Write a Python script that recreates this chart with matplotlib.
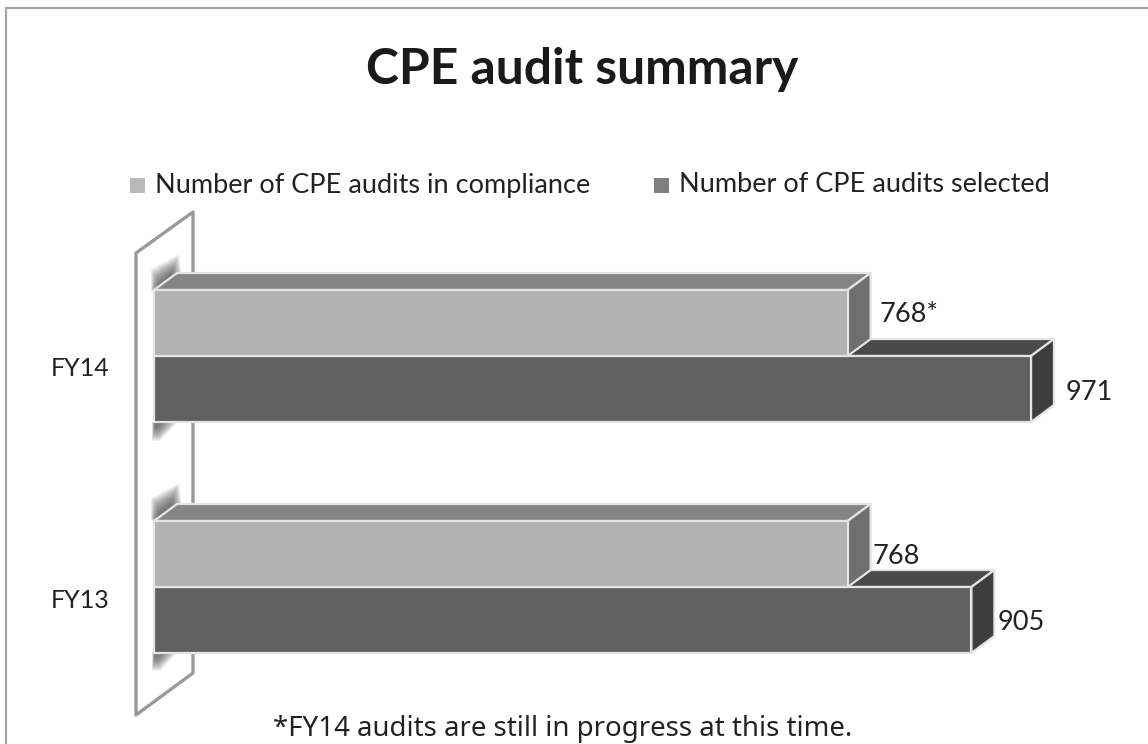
"""CPE audit summary: 3D-look horizontal bars, drawn by hand with polygons."""

import matplotlib
matplotlib.use("Agg")
import matplotlib.pyplot as plt
from matplotlib.patches import Polygon, Rectangle

W, H = 1148, 744

years = ["FY13", "FY14"]
in_compliance = [768, 768]
selected = [905, 971]
compliance_labels = ["768", "768*"]
selected_labels = ["905", "971"]
legend_labels = ["Number of CPE audits in compliance", "Number of CPE audits selected"]

# layout in pixels
X0 = 154
PX_PER_UNIT = (1031 - 154) / 971
Y_FY13 = 587
Y_STEP = 231
BAR_H = 66 / Y_STEP
DX = 23 / PX_PER_UNIT
DY = 17 / Y_STEP

LIGHT = ("#b2b2b2", "#858585", "#6f6f6f")
DARK = ("#606060", "#4a4a4a", "#3d3d3d")
EDGE = "#e4e4e4"
TEXT = "#222222"

plt.rcParams["font.family"] = ["Lato", "DejaVu Sans"]

fig = plt.figure(figsize=(W / 100, H / 100), dpi=100)
fig.patch.set_facecolor("white")

# background layer works in plain pixels
bg = fig.add_axes([0, 0, 1, 1])
bg.set_xlim(0, W)
bg.set_ylim(H, 0)
bg.axis("off")

# frame only shows on the top and the left
bg.plot([6, 6, W], [H, 8, 8], color="#a6a6a6", lw=1.6, solid_joinstyle="miter")

# the wall behind the bars
bg.add_patch(Polygon([(136, 253), (193, 212), (193, 673), (136, 715)], closed=True,
                     fc="white", ec="#9a9a9a", lw=2.4, joinstyle="round"))


def blur(outer, inner, steps=16, alpha=0.065):
    # fake a soft shadow with shrinking translucent polygons
    for k in range(steps):
        t = k / (steps - 1)
        pts = [(a[0] + (b[0] - a[0]) * t, a[1] + (b[1] - a[1]) * t) for a, b in zip(outer, inner)]
        bg.add_patch(Polygon(pts, closed=True, fc="#404040", ec="none", alpha=alpha))


for y_top, y_bot in [(291, 422), (520, 652)]:
    blur([(151, y_top), (151, y_top - 22), (179, y_top - 37), (182, y_top - 14)],
         [(155, y_top), (160, y_top - 8), (170, y_top - 17), (174, y_top - 14)])
    blur([(152, y_bot), (152, y_bot + 19), (160, y_bot + 19), (178, y_bot)],
         [(155, y_bot), (155, y_bot + 5), (157, y_bot + 5), (162, y_bot)])

ax = fig.add_axes([0, 0, 1, 1])
ax.set_xlim(-X0 / PX_PER_UNIT, (W - X0) / PX_PER_UNIT)
ax.set_ylim((Y_FY13 - H) / Y_STEP, Y_FY13 / Y_STEP)
ax.axis("off")
ax.patch.set_alpha(0)


def box(value, y_low, colors):
    y_high = y_low + BAR_H
    front, top, side = colors
    kw = dict(closed=True, ec=EDGE, lw=1.6, joinstyle="round")
    ax.add_patch(Polygon([(0, y_high), (DX, y_high + DY), (value + DX, y_high + DY),
                          (value, y_high)], fc=top, **kw))
    ax.add_patch(Polygon([(value, y_low), (value + DX, y_low + DY),
                          (value + DX, y_high + DY), (value, y_high)], fc=side, **kw))
    ax.add_patch(Polygon([(0, y_low), (value, y_low), (value, y_high), (0, y_high)],
                         fc=front, **kw))


for i, year in enumerate(years):
    # the dark box goes first, the light one sits on top of it
    box(selected[i], i - BAR_H, DARK)
    box(in_compliance[i], i, LIGHT)
    bg.text(80, Y_FY13 - i * Y_STEP + 13, year, ha="center", va="center",
            fontsize=18, color=TEXT)

# value labels sit next to the box ends, offsets
label_dx = [25, 32]
label_dy = [30, 41]
for i in range(2):
    ax.text(in_compliance[i] + label_dx[i] / PX_PER_UNIT, i + label_dy[i] / Y_STEP,
            compliance_labels[i], ha="left", va="center", fontsize=19.5, color=TEXT)
sel_dx = [26, 35]
sel_dy = [35, 37]
for i in range(2):
    ax.text(selected[i] + sel_dx[i] / PX_PER_UNIT, i - sel_dy[i] / Y_STEP,
            selected_labels[i], ha="left", va="center", fontsize=19.5, color=TEXT)

fig.text(582 / W, 1 - 69 / H, "CPE audit summary", ha="center", va="center",
         fontsize=35.8, fontweight="bold", color="#1a1a1a")

# legend
for x, color, label in zip([130, 654], ["#b8b9bb", "#7f7f7f"], legend_labels):
    bg.add_patch(Rectangle((x, 178), 15, 15, fc=color, ec="none"))
    bg.text(x + 25, 185, label, ha="left", va="center", fontsize=19.5, color=TEXT)

fig.text(563 / W, 1 - 729 / H, "*FY14 audits are still in progress at this time.",
         ha="center", va="center", fontsize=19.9, color=TEXT, family="Noto Sans")

fig.savefig("out.png", dpi=100)
plt.close(fig)
